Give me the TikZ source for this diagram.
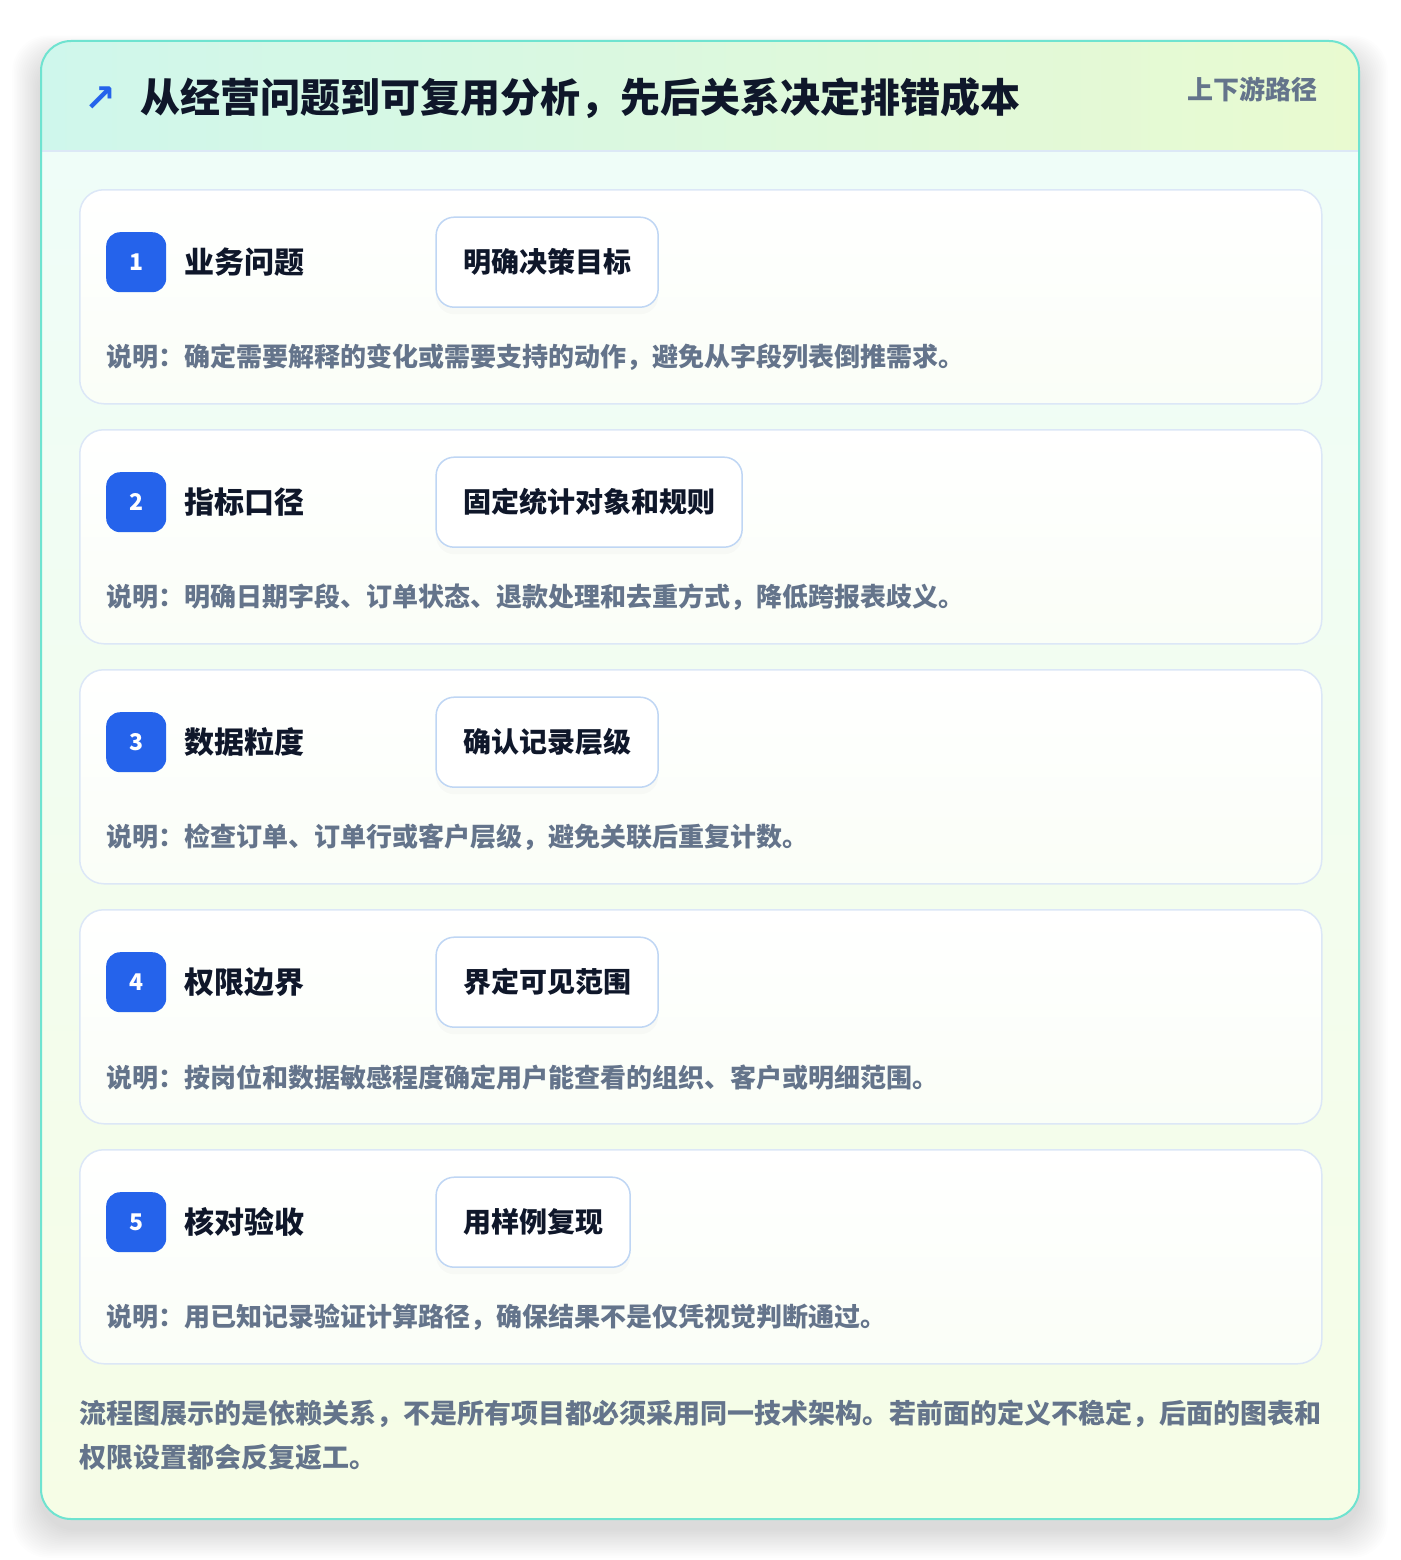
\documentclass[tikz,border=0pt]{standalone}
\usepackage{fontspec}
\setmainfont{Noto Sans CJK SC}
\newfontfamily\symfont{DejaVu Sans}
\usetikzlibrary{positioning,shadows}
\definecolor{panelline}{HTML}{6FE3D0}
\definecolor{headleft}{HTML}{CFF7EC}
\definecolor{headright}{HTML}{E9FAD0}
\definecolor{headline}{HTML}{DCE8F6}
\definecolor{bodytop}{HTML}{EFFDF8}
\definecolor{bodybot}{HTML}{F6FDE6}
\definecolor{cardline}{HTML}{DCE7F7}
\definecolor{cardbot}{HTML}{FAFEF7}
\definecolor{pillline}{HTML}{BFD6F4}
\definecolor{badgeblue}{HTML}{2563EB}
\definecolor{inkdark}{HTML}{0F172A}
\definecolor{inkgray}{HTML}{64748B}
\tikzset{
  card/.style={
    rectangle,
    rounded corners=24pt,
    draw=cardline, line width=1.5pt,
    top color=white, bottom color=cardbot,
    minimum width=1242pt, minimum height=214pt,
    anchor=north west,
  },
  badge/.style={
    rectangle,
    rounded corners=14pt,
    fill=badgeblue, text=white,
    minimum size=60pt, inner sep=0pt,
    font=\bfseries\fontsize{23}{23}\selectfont,
  },
  steptitle/.style={
    inner sep=0pt, text=inkdark,
    font=\bfseries\fontsize{30}{30}\selectfont,
  },
  pill/.style={
    rectangle,
    rounded corners=18pt,
    draw=pillline, line width=1.5pt, fill=white,
    minimum height=90pt, inner xsep=27pt,
    text=inkdark,
    font=\bfseries\fontsize{28}{28}\selectfont,
    drop shadow={shadow xshift=0pt, shadow yshift=-7pt, opacity=0.04},
  },
  note/.style={
    inner sep=0pt, text=inkgray,
    font=\bfseries\fontsize{26}{26}\selectfont,
  },
}

\begin{document}
\begin{tikzpicture}[x=1pt,y=-1pt]
  \useasboundingbox (0,0) rectangle (1400,1560);
  \fill[white] (0,0) rectangle (1400,1560);
  % soft shadow of the panel
  \foreach \k in {1,...,18}
    \fill[black, opacity=0.009, rounded corners=36pt]
      ({41-1.6*\k},{41-1.2*\k+16}) rectangle ({1359+1.6*\k},{1519+1.6*\k+10});
  % outer panel
  \begin{scope}
    \clip[rounded corners=30pt] (41,41) rectangle (1359,1519);
    \shade[left color=headleft, right color=headright] (41,41) rectangle (1359,151);
    \shade[top color=bodytop, bottom color=bodybot] (41,151) rectangle (1359,1519);
    \draw[headline, line width=1.2pt] (41,151) -- (1359,151);
  \end{scope}
  \draw[rounded corners=30pt, draw=panelline, line width=2pt] (41,41) rectangle (1359,1519);

  % header
  \node[anchor=west, inner sep=0pt, text=badgeblue, font=\symfont\bfseries\fontsize{38}{38}\selectfont]
    (icon) at (84,99) {↗};
  \node[anchor=west, inner sep=0pt, text=inkdark, font=\bfseries\fontsize{40}{40}\selectfont]
    (head) at (140,98) {从经营问题到可复用分析，先后关系决定排错成本};
  \node[anchor=east, inner sep=0pt, text=inkgray, font=\bfseries\fontsize{26}{26}\selectfont]
    (route) at (1318,89) {上下游路径};

  % steps
  \foreach \i/\name/\goal/\desc in {
    1/业务问题/明确决策目标/{说明：确定需要解释的变化或需要支持的动作，避免从字段列表倒推需求。},
    2/指标口径/固定统计对象和规则/{说明：明确日期字段、订单状态、退款处理和去重方式，降低跨报表歧义。},
    3/数据粒度/确认记录层级/{说明：检查订单、订单行或客户层级，避免关联后重复计数。},
    4/权限边界/界定可见范围/{说明：按岗位和数据敏感程度确定用户能查看的组织、客户或明细范围。},
    5/核对验收/用样例复现/{说明：用已知记录验证计算路径，确保结果不是仅凭视觉判断通过。}
  }{
    \node[card] (card\i) at (79,{189+240*(\i-1)}) {};
    \node[badge, below right=43pt and 27pt of card\i.north west] (badge\i) {\i};
    \node[steptitle, right=18pt of badge\i] (title\i) {\name};
    \node[pill, right=269pt of badge\i] (pill\i) {\goal};
    \node[note, below=65pt of badge\i.south west, anchor=west] (note\i) {\desc};
  }

  % footer
  \node[anchor=north west, inner sep=0pt, align=left, text=inkgray,
    font=\bfseries\fontsize{27}{44}\selectfont] (footnote) at (79,1400)
    {流程图展示的是依赖关系，不是所有项目都必须采用同一技术架构。若前面的定义不稳定，后面的图表和\\权限设置都会反复返工。};
\end{tikzpicture}
\end{document}
